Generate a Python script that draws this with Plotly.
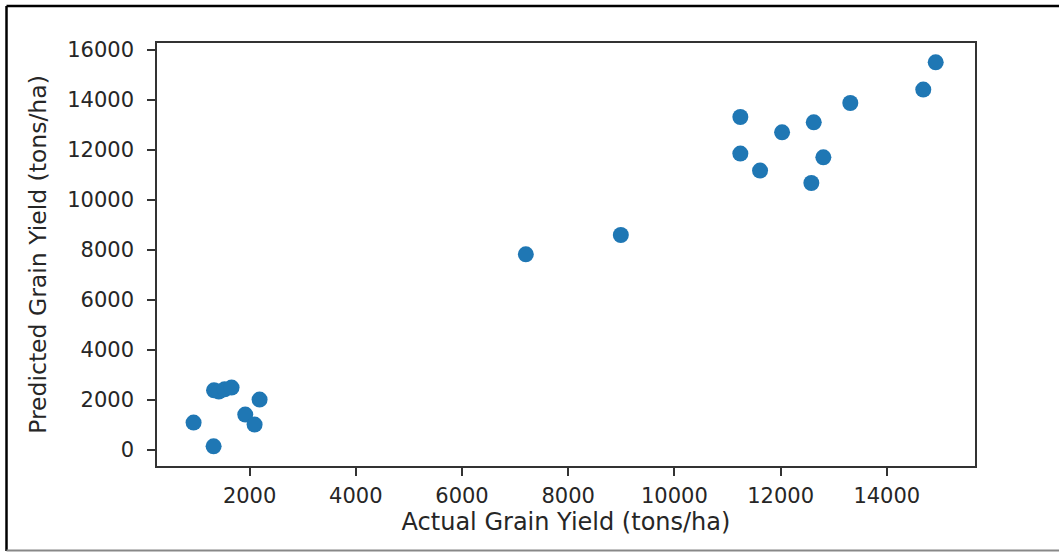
import plotly.graph_objects as go

# Data
actual_yield = [945, 1322, 1330, 1420, 1530, 1660, 2188, 1918, 2094,
                7202, 8991,
                14921, 14687, 13313, 11242, 12624, 12028, 11242, 12805, 11613, 12579]
predicted_yield = [1088, 140, 2380, 2330, 2420, 2490, 2008, 1408, 1008,
                   7820, 8592,
                   15500, 14408, 13872, 13312, 13100, 12700, 11848, 11700, 11168, 10672]

x_ticks = [2000, 4000, 6000, 8000, 10000, 12000, 14000]
y_ticks = [0, 2000, 4000, 6000, 8000, 10000, 12000, 14000, 16000]

x_title = "Actual Grain Yield (tons/ha)"
y_title = "Predicted Grain Yield (tons/ha)"

W, H = 1059, 552
L, R, T, B = 157, 975, 43, 466

fig = go.Figure()
fig.add_trace(go.Scatter(
    x=actual_yield, y=predicted_yield, mode="markers",
    marker=dict(color="#1f77b4", size=16, line=dict(width=0)),
    showlegend=False,
))

font = "DejaVu Sans, Verdana, sans-serif"
axis_common = dict(
    showgrid=False, zeroline=False, showline=True, linecolor="#333333", linewidth=1.5,
    mirror=True, ticks="outside", ticklen=8, tickwidth=1.5, tickcolor="#333333",
    tickfont=dict(family=font, size=21, color="#262626"),
)
fig.update_xaxes(range=[256, 15661], tickvals=x_ticks,
                 ticktext=[str(v) for v in x_ticks], ticklabelstandoff=2,
                 title=dict(text=x_title, font=dict(family=font, size=24, color="#262626"), standoff=3),
                 **axis_common)
fig.update_yaxes(range=[-648, 16272], tickvals=y_ticks,
                 ticktext=[str(v) for v in y_ticks], ticklabelstandoff=9,
                 title=dict(text=y_title, font=dict(family=font, size=23.5, color="#262626"), standoff=14),
                 **axis_common)

def px_x(p):
    return (p - L) / (R - L)

def px_y(p):
    return (B - p) / (B - T)

shapes = [
    dict(type="line", xref="paper", yref="paper", x0=px_x(6.5), x1=px_x(1070), y0=px_y(6), y1=px_y(6),
         line=dict(color="#000000", width=2.5)),
    dict(type="line", xref="paper", yref="paper", x0=px_x(6.5), x1=px_x(6.5), y0=px_y(6), y1=px_y(551),
         line=dict(color="#000000", width=2.5)),
    dict(type="line", xref="paper", yref="paper", x0=px_x(6.5), x1=px_x(1070), y0=px_y(550.5), y1=px_y(550.5),
         line=dict(color="#888888", width=2)),
]

fig.update_layout(
    width=W, height=H,
    margin=dict(l=L, r=W - R, t=T, b=H - B, pad=0),
    paper_bgcolor="white", plot_bgcolor="white",
    shapes=shapes,
)

fig.write_html(
    "out.html",
    config={"displayModeBar": False},
    post_script="document.body.style.margin='0px';document.body.style.overflow='hidden';",
)
